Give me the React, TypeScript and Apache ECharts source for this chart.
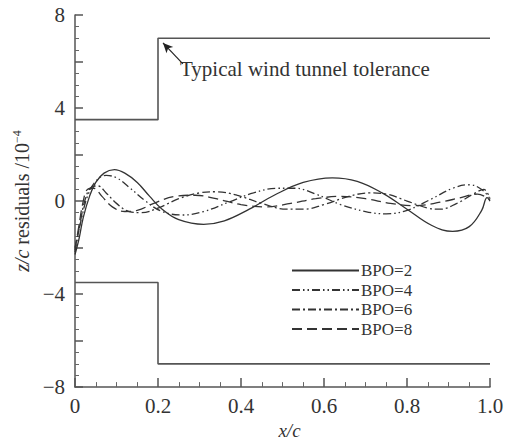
import React, { useEffect, useRef } from "react";
import * as echarts from "echarts";

const bpo2: [number, number][] = [
  [0, -2.3], [0.01, -1.6], [0.02, -0.7], [0.035, 0.2], [0.05, 0.8], [0.07, 1.2], [0.095, 1.35],
  [0.12, 1.2], [0.15, 0.8], [0.18, 0.2], [0.21, -0.35], [0.25, -0.8], [0.31, -1.0], [0.36, -0.85],
  [0.42, -0.35], [0.48, 0.25], [0.55, 0.8], [0.62, 1.0], [0.68, 0.85], [0.74, 0.35], [0.8, -0.35],
  [0.86, -1.05], [0.91, -1.3], [0.95, -1.1], [0.98, -0.4], [0.993, 0.15], [1.0, 0.0],
];
const bpo4: [number, number][] = [
  [0, -2.0], [0.015, -0.8], [0.03, 0.2], [0.05, 0.85], [0.075, 1.1], [0.1, 1.0], [0.13, 0.6],
  [0.17, 0.0], [0.21, -0.45], [0.26, -0.6], [0.31, -0.45], [0.37, -0.05], [0.43, 0.35],
  [0.49, 0.55], [0.53, 0.55], [0.58, 0.3], [0.64, -0.15], [0.7, -0.45], [0.75, -0.55],
  [0.8, -0.4], [0.86, 0.1], [0.91, 0.55], [0.95, 0.7], [0.98, 0.5], [1.0, 0.1],
];
const bpo6: [number, number][] = [
  [0, -2.2], [0.012, -1.0], [0.025, 0.1], [0.04, 0.6], [0.055, 0.65], [0.075, 0.35], [0.1, -0.1],
  [0.13, -0.45], [0.16, -0.5], [0.2, -0.3], [0.25, 0.1], [0.3, 0.35], [0.34, 0.4], [0.39, 0.25],
  [0.45, -0.1], [0.51, -0.35], [0.55, -0.35], [0.6, -0.15], [0.66, 0.2], [0.71, 0.35], [0.75, 0.3],
  [0.8, 0.0], [0.85, -0.3], [0.88, -0.35], [0.92, -0.1], [0.96, 0.3], [0.985, 0.5], [1.0, 0.1],
];
const bpo8: [number, number][] = [
  [0, -2.1], [0.01, -1.0], [0.02, 0.0], [0.03, 0.5], [0.045, 0.55], [0.065, 0.2], [0.09, -0.25],
  [0.12, -0.45], [0.15, -0.4], [0.19, -0.1], [0.24, 0.2], [0.29, 0.25], [0.34, 0.1], [0.4, -0.15],
  [0.46, -0.25], [0.52, -0.1], [0.58, 0.1], [0.64, 0.2], [0.7, 0.1], [0.76, -0.1], [0.82, -0.2],
  [0.88, -0.05], [0.93, 0.15], [0.97, 0.3], [1.0, 0.05],
];
const upperTol: [number, number][] = [[0, 3.5], [0.2, 3.5], [0.2, 7], [1.0, 7]];
const lowerTol: [number, number][] = [[0, -3.5], [0.2, -3.5], [0.2, -7], [1.0, -7]];
const arrowTail: [number, number] = [0.26, 5.9];
const arrowHead: [number, number] = [0.212, 6.8];
const seriesNames = ["BPO=2", "BPO=4", "BPO=6", "BPO=8"];
const annotation = "Typical wind tunnel tolerance";

const FONT = "'Liberation Serif', 'Times New Roman', serif";
const INK = "#333";

export default function App() {
  const ref = useRef<HTMLDivElement>(null);
  useEffect(() => {
    document.body.style.margin = "0";
    if (!ref.current) return;
    const chart = echarts.init(ref.current, null, { renderer: "svg" });
    const curve = (name: string, data: [number, number][], type: any) => ({
      name,
      type: "line",
      data,
      smooth: 0.4,
      symbol: "none",
      lineStyle: { color: INK, width: 1.3, type },
      itemStyle: { color: INK },
    });
    chart.setOption({
      animation: false,
      backgroundColor: "#fff",
      textStyle: { fontFamily: FONT },
      grid: { left: 75, right: 26, top: 15, bottom: 51 },
      xAxis: {
        type: "value",
        min: 0,
        max: 1,
        interval: 0.2,
        name: "x/c",
        nameLocation: "middle",
        nameGap: 32,
        nameTextStyle: { fontFamily: FONT, fontSize: 19, fontStyle: "italic", color: INK, padding: [0, 0, 0, 14] },
        axisLine: { onZero: false, lineStyle: { color: "#555", width: 1.5 } },
        axisTick: { inside: true, length: 9, lineStyle: { color: "#555", width: 1.5 } },
        minorTick: { show: true, splitNumber: 4, length: 5, lineStyle: { color: "#666", width: 1 } },
        splitLine: { show: false },
        axisLabel: {
          fontFamily: FONT,
          fontSize: 21,
          color: INK,
          margin: 8,
          formatter: (v: number) => (v === 0 ? "0" : v.toFixed(1)),
        },
      },
      yAxis: {
        type: "value",
        min: -8,
        max: 8,
        interval: 2,
        name: "{i|z/c} residuals /10{s|−4}",
        nameLocation: "middle",
        nameGap: 43,
        nameTextStyle: {
          fontFamily: FONT,
          fontSize: 20,
          color: INK,
          rich: {
            i: { fontFamily: FONT, fontSize: 20, fontStyle: "italic", color: INK },
            s: { fontFamily: FONT, fontSize: 12, color: INK, verticalAlign: "top", padding: [0, 0, 9, 0] },
          },
        },
        axisLine: { show: true, lineStyle: { color: "#555", width: 1.5 } },
        axisTick: { inside: true, length: 8, lineStyle: { color: "#555", width: 1.5 } },
        minorTick: { show: true, splitNumber: 4, length: 4, lineStyle: { color: "#666", width: 1 } },
        splitLine: { show: false },
        axisLabel: {
          fontFamily: FONT,
          fontSize: 21,
          color: INK,
          margin: 10,
          formatter: (v: number) => (v % 4 === 0 ? (v < 0 ? "−" + Math.abs(v) : String(v)) : ""),
        },
      },
      legend: {
        data: seriesNames,
        orient: "vertical",
        left: 291,
        top: 262,
        itemWidth: 67,
        itemHeight: 12,
        itemGap: 2.5,
        padding: 0,
        itemStyle: { opacity: 0 },
        textStyle: { fontFamily: FONT, fontSize: 17, color: INK, padding: [0, 0, 0, -3] },
      },
      series: [
        curve(seriesNames[0], bpo2, "solid"),
        curve(seriesNames[1], bpo4, [8, 3, 1.5, 3, 1.5, 3]),
        curve(seriesNames[2], bpo6, [8, 3, 2, 3]),
        curve(seriesNames[3], bpo8, [10, 5]),
        {
          name: "upper",
          type: "line",
          data: upperTol,
          symbol: "none",
          lineStyle: { color: "#555", width: 1.6 },
          markLine: {
            silent: true,
            symbol: ["none", "arrow"],
            symbolSize: [7, 10],
            label: { show: false },
            lineStyle: { color: "#222", width: 1.2, type: "solid" },
            data: [[{ coord: arrowTail }, { coord: arrowHead }]],
          },
        },
        {
          name: "lower",
          type: "line",
          data: lowerTol,
          symbol: "none",
          lineStyle: { color: "#555", width: 1.6 },
        },
      ],
      graphic: [
        {
          type: "text",
          left: 180,
          top: 58,
          style: { text: annotation, fontFamily: FONT, fontSize: 21, fill: INK },
        },
      ],
    });
    return () => chart.dispose();
  }, []);
  return <div ref={ref} style={{ width: 516, height: 445 }} />;
}
